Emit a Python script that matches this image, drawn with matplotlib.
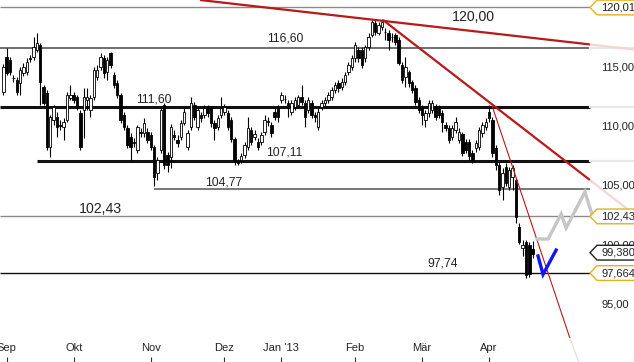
import numpy as np
import matplotlib.pyplot as plt
from matplotlib.patches import Polygon

plt.rcParams['font.family'] = ['Liberation Sans', 'DejaVu Sans']

# daily candles, x = trading day index (0 = 3 Sep 2012)
first_day = -1
opens = [112.90, 115.84, 115.59, 114.08, 113.91, 113.66, 114.50, 114.58, 115.76, 115.84,
         116.43, 116.85, 113.32, 112.81, 108.27, 110.54, 110.80, 110.12, 109.95, 110.54,
         112.39, 112.65, 112.48, 111.13, 111.38, 112.23, 111.38, 112.48, 114.16, 115.00,
         115.76, 114.58, 116.18, 114.33, 113.66, 112.65, 110.96, 109.87, 109.11, 108.69,
         108.02, 109.53, 109.45, 109.53, 109.28, 108.27, 106.08, 108.02, 111.81, 107.60,
         107.43, 109.28, 108.86, 109.11, 110.29, 108.27, 109.95, 111.81, 109.95, 110.96,
         110.96, 111.55, 111.55, 110.29, 109.95, 110.96, 111.22, 111.13, 110.55, 108.92,
         106.96, 107.21, 107.63, 108.27, 109.70, 109.11, 108.69, 108.69, 109.53, 110.46,
         110.12, 111.22, 111.55, 112.23, 112.31, 111.97, 111.22, 111.64, 111.81, 112.48,
         111.97, 111.38, 111.97, 110.96, 109.95, 111.64, 111.97, 112.23, 112.48, 113.07,
         113.66, 113.32, 113.74, 114.58, 115.00, 115.76, 116.43, 116.43, 115.76, 116.69,
         117.70, 118.71, 117.86, 118.37, 117.95, 117.86, 117.53, 117.70, 117.27, 115.17,
         114.16, 114.58, 113.74, 113.24, 112.23, 111.55, 110.54, 111.13, 111.38, 111.64,
         111.55, 111.13, 110.12, 109.87, 109.11, 109.70, 108.86, 109.35, 108.66, 108.66,
         107.80, 108.19, 108.27, 109.45, 109.95, 111.22, 110.54, 108.19, 106.76, 104.91,
         106.59, 104.91, 105.75, 105.49, 101.54, 99.79, 100.26, 100.02, 99.71]
highs = [115.25, 116.60, 115.84, 114.33, 114.16, 115.00, 115.34, 115.76, 116.01, 117.53,
         117.86, 117.02, 113.49, 113.07, 110.96, 111.81, 111.22, 110.54, 110.71, 112.90,
         113.49, 112.90, 112.65, 111.38, 113.24, 113.24, 112.65, 115.00, 115.17, 116.18,
         116.01, 115.84, 116.26, 114.58, 113.91, 112.81, 111.22, 110.12, 109.45, 109.03,
         110.12, 109.87, 110.71, 109.87, 109.53, 108.44, 107.43, 111.64, 111.97, 107.85,
         110.21, 109.70, 109.28, 110.54, 111.55, 109.70, 112.48, 112.06, 111.64, 111.22,
         111.81, 111.81, 111.72, 110.54, 110.96, 112.48, 111.89, 111.38, 110.80, 109.10,
         107.30, 107.80, 108.65, 110.80, 109.95, 109.70, 109.03, 109.53, 110.96, 110.80,
         110.37, 111.55, 111.81, 112.90, 112.65, 112.23, 112.23, 112.48, 112.65, 113.49,
         112.23, 112.48, 112.23, 111.22, 111.55, 112.23, 112.48, 112.90, 113.32, 113.74,
         113.91, 114.08, 114.58, 115.42, 116.01, 117.11, 116.69, 116.69, 116.85, 117.86,
         118.96, 118.96, 118.79, 119.04, 118.28, 118.12, 117.86, 117.86, 117.53, 115.42,
         115.84, 114.75, 113.91, 113.49, 112.48, 111.81, 111.38, 112.23, 112.23, 111.89,
         111.81, 111.38, 110.37, 110.12, 110.12, 110.80, 109.87, 109.52, 108.92, 108.92,
         108.05, 108.86, 109.95, 110.37, 110.71, 111.81, 110.80, 108.44, 107.01, 106.50,
         106.93, 106.59, 106.76, 105.66, 101.88, 100.42, 100.45, 100.26, 100.34]
lows = [112.65, 114.33, 114.33, 113.74, 112.65, 112.65, 114.25, 114.33, 115.42, 115.59,
        116.26, 111.81, 111.81, 108.02, 107.43, 110.12, 109.11, 109.70, 108.86, 110.37,
        112.23, 111.97, 111.38, 108.02, 109.03, 111.38, 110.80, 112.23, 113.91, 114.75,
        114.08, 113.91, 114.92, 113.24, 112.39, 110.29, 109.70, 108.19, 107.18, 108.27,
        107.77, 109.11, 109.11, 108.61, 108.02, 104.99, 105.49, 107.77, 106.45, 106.20,
        106.50, 108.86, 108.27, 108.86, 110.12, 108.02, 109.70, 110.54, 109.70, 110.37,
        110.71, 110.80, 109.95, 108.86, 109.70, 110.71, 110.96, 109.70, 108.66, 106.72,
        106.72, 106.96, 107.38, 108.02, 108.44, 108.86, 108.02, 108.44, 109.28, 110.04,
        109.11, 110.54, 110.37, 111.97, 111.97, 110.80, 110.96, 111.38, 111.55, 111.81,
        109.95, 111.13, 110.71, 110.37, 109.70, 111.38, 111.72, 111.97, 112.23, 112.81,
        112.90, 113.07, 113.49, 114.33, 114.75, 115.42, 115.42, 114.92, 115.42, 116.43,
        117.53, 117.70, 117.70, 118.12, 117.27, 116.43, 117.11, 116.85, 115.17, 113.66,
        113.32, 113.32, 112.81, 111.81, 111.13, 110.12, 109.95, 110.80, 111.13, 110.54,
        110.71, 109.53, 109.62, 108.61, 108.86, 109.45, 108.61, 107.55, 107.80, 107.21,
        106.96, 107.85, 108.02, 109.11, 109.70, 110.37, 107.43, 106.34, 104.23, 103.81,
        104.99, 104.65, 104.65, 101.88, 100.10, 99.07, 97.24, 97.32, 98.91]
closes = [115.00, 114.50, 114.58, 114.10, 112.90, 114.75, 115.00, 115.42, 115.68, 116.69,
          117.02, 113.74, 111.97, 108.27, 110.80, 111.64, 109.95, 110.04, 110.37, 112.65,
          112.65, 112.23, 111.64, 108.27, 112.48, 112.48, 112.39, 114.75, 114.75, 115.84,
          114.50, 115.59, 115.17, 113.49, 112.65, 110.54, 109.95, 108.44, 108.27, 108.61,
          109.95, 109.45, 110.29, 108.86, 108.27, 105.75, 107.18, 111.38, 106.78, 106.78,
          109.95, 109.11, 108.61, 110.29, 111.22, 109.45, 111.97, 110.80, 111.38, 110.71,
          111.55, 111.13, 110.29, 109.87, 110.71, 111.55, 111.64, 109.95, 108.92, 107.11,
          106.94, 107.55, 108.40, 109.87, 108.69, 109.37, 108.27, 109.28, 110.54, 110.37,
          109.45, 110.80, 110.80, 112.65, 112.33, 111.55, 111.97, 112.23, 112.48, 112.06,
          110.80, 112.23, 110.96, 110.80, 111.22, 111.97, 112.23, 112.65, 113.07, 113.49,
          113.24, 113.74, 114.33, 115.17, 115.76, 116.85, 115.76, 115.17, 116.69, 117.53,
          118.79, 117.95, 118.54, 118.79, 117.93, 117.27, 117.51, 117.11, 115.34, 113.91,
          115.00, 113.66, 113.07, 112.06, 111.38, 110.96, 111.13, 111.97, 111.97, 110.80,
          110.96, 110.37, 109.87, 108.86, 109.87, 110.37, 109.53, 107.80, 108.05, 107.55,
          107.21, 108.61, 109.70, 110.12, 110.37, 110.71, 107.77, 106.76, 104.65, 106.08,
          105.24, 106.34, 106.50, 102.38, 100.28, 100.02, 97.48, 97.56, 99.23]

month_pos = [0, 20, 43, 65, 82, 104, 124, 144]
month_names = ['Sep', 'Okt', 'Nov', 'Dez', "Jan '13", 'Feb', 'Mär', 'Apr']

# horizontal support / resistance levels
levels = [120.01, 116.60, 111.60, 107.11, 104.77, 102.43, 97.664]
level_start = [-2, -2, -2, 9, 44, -2, -2]
level_names = ['120,00', '116,60', '111,60', '107,11', '104,77', '102,43', '97,74']

# trend lines (x = trading day, y = price), solid part then faded part
trend_lines = [
    ([57.7, 174.1], [120.64, 116.90], [174.1, 187.3], [116.90, 116.48]),
    ([112.3, 174.1], [118.96, 105.49], [174.1, 187.3], [105.49, 102.61]),
    ([144.9, 168.1], [111.72, 92.20], [168.1, 171.5], [92.20, 89.60]),
]

# projections
proj_gray_x = [158.3, 161.6, 165.5, 167.0, 172.6, 175.0]
proj_gray_y = [100.53, 100.53, 102.63, 101.46, 104.49, 102.35]
proj_blue_x = [158.6, 160.1, 164.0]
proj_blue_y = [99.10, 97.55, 99.60]

price_ticks = [115, 110, 105, 100, 95]
price_tick_names = ['115,00', '110,00', '105,00', '100,00', '95,00']
box_values = [120.01, 102.43, 99.38, 97.664]
box_names = ['120,01', '102,43', '99,380', '97,664']
box_colors = ['#e3b21c', '#e3b21c', '#222222', '#e3b21c']

W, H = 634, 362
fig = plt.figure(figsize=(W / 100, H / 100), dpi=100)
ax = fig.add_axes([0, 0, 1, 1])
ax.set_axis_off()
ax.set_xlim(-2, 187.25)
ax.set_ylim(90.18, 120.64)

x_end = 174.1  # where levels end before the price scale
lvl_style = [('#8a8a8a', 1.0), ('#555555', 1.2), ('#111111', 2.2), ('#111111', 2.2),
             ('#6e6e6e', 1.3), ('#8a8a8a', 1.0), ('#111111', 1.0)]
for v, x0, (col, lw) in zip(levels, level_start, lvl_style):
    ax.plot([x0, x_end], [v, v], color=col, lw=lw, zorder=1, solid_capstyle='butt')
for v in levels[1:4]:
    ax.plot([x_end, 187.3], [v, v], color='#e8e8e8', lw=1.6, zorder=1)

# candles
days = np.arange(first_day, first_day + len(opens))
o = np.array(opens)
hi = np.array(highs)
lo = np.array(lows)
c = np.array(closes)
up = c >= o
ax.vlines(days, lo, hi, color='black', lw=0.8, zorder=3)
ax.bar(days, np.maximum(np.abs(c - o), 0.03), bottom=np.minimum(o, c), width=0.72,
       color=np.where(up, 'white', 'black'), edgecolor='black', linewidth=0.6, zorder=4)

# trend lines
for i, (sx, sy, fx, fy) in enumerate(trend_lines):
    lw = 0.8 if i == 2 else 1.6
    ax.plot(sx, sy, color='#b81a1a', lw=lw, zorder=5, solid_capstyle='butt')
    ax.plot(fx, fy, color='#f2d6d6', lw=lw, zorder=5, solid_capstyle='butt')

ax.plot(proj_gray_x, proj_gray_y, color='#c6c6c6', lw=2.4, zorder=6, solid_joinstyle='miter')
ax.plot(proj_blue_x, proj_blue_y, color='#1414f0', lw=2.4, zorder=6, solid_joinstyle='miter')

# level labels
lbl_x = [139.2, 83.1, 44.0, 82.9, 64.9, 27.9, 130.2]
lbl_dy = [-1.5, 5, 3.4, 3.6, 2.2, 2.7, 5]
lbl_size = [10.2, 8.7, 8.7, 8.7, 8.7, 10.2, 8.7]
for name, v, x, dy, fs in zip(level_names, levels, lbl_x, lbl_dy, lbl_size):
    ax.annotate(name, (x, v), xytext=(0, dy), textcoords='offset points',
                ha='center', va='top' if dy < 0 else 'baseline', fontsize=fs,
                color='#222222', zorder=7)

# price scale
ytr = ax.get_yaxis_transform()
for v, name in zip(price_ticks, price_tick_names):
    ax.text(601 / W, v, name, transform=ytr, ha='left', va='center', fontsize=8,
            color='#222222', zorder=7)
hh = 0.62
for v, name, col in zip(box_values, box_names, box_colors):
    pts = [(590 / W, v), (597 / W, v + hh), (1.02, v + hh), (1.02, v - hh), (597 / W, v - hh)]
    ax.add_patch(Polygon(pts, closed=True, transform=ytr, facecolor='white',
                         edgecolor=col, lw=1.0, zorder=8, clip_on=False))
    ax.text(601 / W, v, name, transform=ytr, ha='left', va='center', fontsize=8,
            color='#222222', zorder=9)

# months
xtr = ax.get_xaxis_transform()
ax.vlines(month_pos, 0, 5 / H, transform=xtr, color='#333333', lw=0.8)
for p, name in zip(month_pos, month_names):
    ax.text(p, 14 / H, name, transform=xtr, ha='center', va='center', fontsize=8,
            color='#222222')

fig.savefig('out.png', dpi=100)
